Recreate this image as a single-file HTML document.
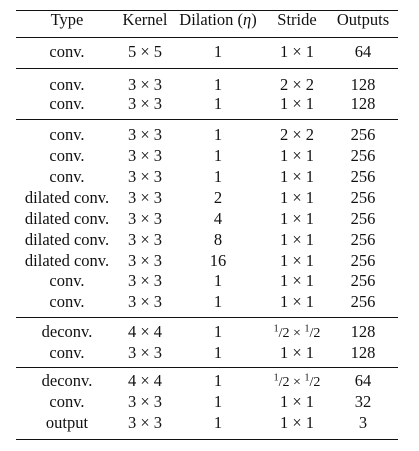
<!DOCTYPE html>
<html><head><meta charset="utf-8"><style>
body{margin:0;width:419px;height:451px;background:#fff;position:relative;font-family:"Liberation Serif",serif;font-size:16.5px;color:#111;overflow:hidden}
.t{position:absolute;transform:translate(-50%,-50%);white-space:nowrap}
.l{position:absolute;left:16px;width:382px;height:1px;background:#111}
</style></head><body>
<div id="tbl"></div>
<script>
const cols=[67,145,218,297,363];
const header=["Type","Kernel","Dilation (<i>η</i>)","Stride","Outputs"];
const half='<span style="font-size:14px"><sup style="font-size:10px">1</sup>/2 × <sup style="font-size:10px">1</sup>/2</span>';
const rows=[
 [52,"conv.","5 × 5","1","1 × 1","64"],
 [85,"conv.","3 × 3","1","2 × 2","128"],
 [104,"conv.","3 × 3","1","1 × 1","128"],
 [135,"conv.","3 × 3","1","2 × 2","256"],
 [156,"conv.","3 × 3","1","1 × 1","256"],
 [177,"conv.","3 × 3","1","1 × 1","256"],
 [198,"dilated conv.","3 × 3","2","1 × 1","256"],
 [219,"dilated conv.","3 × 3","4","1 × 1","256"],
 [240,"dilated conv.","3 × 3","8","1 × 1","256"],
 [261,"dilated conv.","3 × 3","16","1 × 1","256"],
 [281,"conv.","3 × 3","1","1 × 1","256"],
 [302,"conv.","3 × 3","1","1 × 1","256"],
 [332,"deconv.","4 × 4","1",half,"128"],
 [353,"conv.","3 × 3","1","1 × 1","128"],
 [381,"deconv.","4 × 4","1",half,"64"],
 [402,"conv.","3 × 3","1","1 × 1","32"],
 [423,"output","3 × 3","1","1 × 1","3"]];
const lines=[10,37,68,119,317,367,439];
const root=document.getElementById('tbl');
function cell(x,y,html,name){const d=document.createElement('div');d.className='t';d.style.left=x+'px';d.style.top=y+'px';d.innerHTML=html;


root.appendChild(d);}
header.forEach((t,i)=>cell(cols[i],20,t,'header-cell'));
rows.forEach(r=>{for(let i=0;i<5;i++)cell(cols[i],r[0],r[i+1],'table-cell');});
lines.forEach(y=>{const d=document.createElement('div');d.className='l';d.style.top=y+'px';


root.appendChild(d);});
</script>
</body></html>
